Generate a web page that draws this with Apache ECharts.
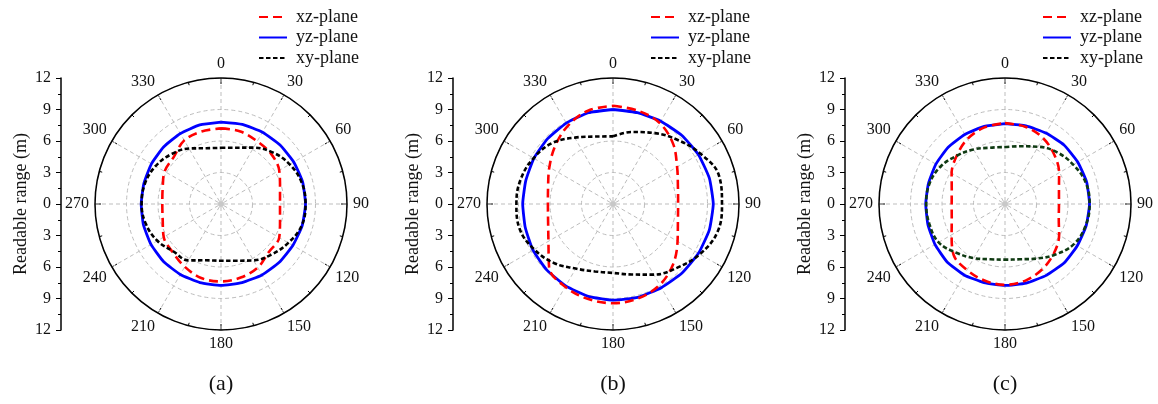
<!DOCTYPE html>
<html>
<head>
<meta charset="utf-8">
<script src="https://cdn.jsdelivr.net/npm/echarts@6/dist/echarts.min.js"></script>
</head>
<body style="margin: 0; padding: 0; background: #fff;">
<div id="chart" style="width: 1158px; height: 404px;"></div>
<script>
// angles in degrees, clockwise from north; last point closes the loop
const angles = [0, 15, 30, 45, 60, 75, 90, 105, 120, 135, 150, 165,
  180, 195, 210, 225, 240, 255, 270, 285, 300, 315, 330, 345, 360]

const panelNames = ['(a)', '(b)', '(c)']
const seriesNames = ['xz-plane', 'yz-plane', 'xy-plane']
const radiusTicks = [0, 3, 6, 9, 12]

// readable range (m) per panel
const aXZ = [7.2, 7.15, 6.9, 6.75, 6.4, 5.82, 5.62, 5.82, 6.4, 6.45, 7.0, 7.25,
  7.37, 7.3, 6.9, 6.5, 6.3, 5.75, 5.59, 5.75, 6.2, 6.35, 7.0, 7.15]
const aYZ = [7.8, 7.85, 7.9, 7.95, 8.0, 8.05, 8.05, 8.0, 7.9, 7.85, 7.8, 7.75,
  7.75, 7.75, 7.75, 7.75, 7.7, 7.65, 7.6, 7.6, 7.65, 7.7, 7.75, 7.8]
const aXY = [5.35, 5.55, 6.2, 6.95, 7.55, 7.95, 8.05, 7.95, 7.4, 6.8, 6.2, 5.59,
  5.4, 5.55, 6.2, 6.4, 7.0, 7.4, 7.56, 7.5, 7.2, 6.7, 6.1, 5.5]

const bXZ = [9.35, 9.2, 8.9, 8.1, 7.05, 6.4, 6.2, 6.4, 7.1, 8.1, 8.9, 9.3,
  9.45, 9.35, 9.1, 8.6, 7.1, 6.4, 6.2, 6.4, 7.0, 7.8, 8.6, 9.2]
const bYZ = [9.0, 9.0, 9.1, 9.25, 9.4, 9.5, 9.55, 9.5, 9.4, 9.3, 9.2, 9.2,
  9.15, 9.1, 9.0, 8.9, 8.8, 8.65, 8.6, 8.6, 8.7, 8.8, 8.9, 9.0]
const bXY = [6.44, 7.1, 7.8, 8.65, 9.6, 10.45, 10.38, 10.3, 9.55, 8.6, 7.77, 6.95,
  6.57, 6.65, 7.1, 7.95, 8.65, 9.2, 9.2, 9.1, 8.73, 8.2, 7.3, 6.65]

const cXZ = [7.7, 7.6, 7.25, 6.64, 5.95, 5.32, 5.14, 5.3, 5.95, 6.6, 7.15, 7.55,
  7.7, 7.55, 7.25, 6.9, 5.87, 5.25, 5.08, 5.25, 5.87, 6.5, 7.15, 7.55]
const cYZ = [7.65, 7.7, 7.8, 7.95, 8.0, 8.05, 8.05, 8.0, 7.95, 7.95, 7.85, 7.8,
  7.75, 7.75, 7.8, 7.8, 7.7, 7.6, 7.55, 7.55, 7.6, 7.65, 7.65, 7.65]
const cXY = [5.43, 5.69, 6.3, 6.98, 7.5, 7.95, 8.06, 7.95, 7.6, 6.8, 6.0, 5.45,
  5.3, 5.45, 5.95, 6.56, 7.3, 7.45, 7.5, 7.45, 7.1, 6.5, 6.0, 5.55]

const panels = [
  { xz: aXZ, yz: aYZ, xy: aXY, xyColor: '#000000' },
  { xz: bXZ, yz: bYZ, xy: bXY, xyColor: '#000000' },
  { xz: cXZ, yz: cYZ, xy: cXY, xyColor: '#0f3a12' }
]

const FONT = '"Liberation Serif", "Times New Roman", serif'
const centersX = [221, 613, 1005]
const centerY = 204
const R = 126

function toPoints(values) {
  const closed = values.concat([values[0]])
  return angles.map((a, i) => [closed[i], a])
}

const option = {
  animation: false,
  backgroundColor: '#fff',
  textStyle: { fontFamily: FONT },
  polar: [],
  angleAxis: [],
  radiusAxis: [],
  grid: [],
  xAxis: [],
  yAxis: [],
  legend: [],
  series: [],
  graphic: []
}

panels.forEach((p, i) => {
  const cx = centersX[i]

  option.polar.push({ center: [cx, centerY], radius: R })

  option.angleAxis.push({
    polarIndex: i,
    type: 'value',
    min: 0,
    max: 360,
    interval: 30,
    startAngle: 90,
    clockwise: true,
    axisLine: { lineStyle: { color: '#000', width: 1.5 } },
    axisTick: { inside: true, length: 6, lineStyle: { color: '#000', width: 1 } },
    minorTick: { show: true, splitNumber: 2, length: 3, lineStyle: { color: '#000' } },
    axisLabel: {
      margin: 6,
      align: 'center',
      verticalAlign: 'middle',
      fontFamily: FONT,
      fontSize: 16,
      color: '#111',
      formatter: v => (v === 360 ? '' : String(v))
    },
    splitLine: { show: true, lineStyle: { color: '#bdbdbd', type: [4, 3], width: 1 } }
  })

  option.radiusAxis.push({
    polarIndex: i,
    type: 'value',
    min: radiusTicks[0],
    max: radiusTicks[radiusTicks.length - 1],
    interval: 3,
    axisLine: { show: false },
    axisTick: { show: false },
    axisLabel: { show: false },
    splitLine: { show: true, lineStyle: { color: '#bdbdbd', type: [4, 3], width: 1 } }
  })

  // left vertical range scale (12 ... 0 ... 12)
  option.grid.push({ left: cx - 160, top: centerY - R, width: 1, height: 2 * R })
  option.xAxis.push({ gridIndex: i, type: 'value', show: false, min: 0, max: 1 })
  option.yAxis.push({
    gridIndex: i,
    type: 'value',
    min: -12,
    max: 12,
    interval: 3,
    name: 'Readable range (m)',
    nameLocation: 'middle',
    nameGap: 31,
    nameRotate: 90,
    nameTextStyle: { fontFamily: FONT, fontSize: 18, color: '#111' },
    axisLine: { show: true, lineStyle: { color: '#000', width: 1.5 } },
    axisTick: { show: true, inside: false, length: 5, lineStyle: { color: '#000' } },
    minorTick: { show: true, splitNumber: 2, length: 3, lineStyle: { color: '#000' } },
    axisLabel: {
      margin: 10,
      fontFamily: FONT,
      fontSize: 16,
      color: '#111',
      formatter: v => String(Math.abs(v))
    },
    splitLine: { show: false }
  })

  option.legend.push({
    orient: 'vertical',
    left: cx + 32,
    top: 3,
    itemWidth: 28,
    itemHeight: 14,
    itemGap: 2.5,
    data: seriesNames,
    selectedMode: false,
    itemStyle: { color: 'rgba(0,0,0,0)', borderColor: 'rgba(0,0,0,0)', borderWidth: 0 },
    textStyle: { fontFamily: FONT, fontSize: 18, color: '#111', padding: [0, 0, 0, 4] }
  })

  option.series.push(
    {
      name: seriesNames[0],
      type: 'line',
      coordinateSystem: 'polar',
      polarIndex: i,
      symbol: 'none',
      smooth: 0.35,
      data: toPoints(p.xz),
      lineStyle: { color: '#ff0000', width: 2.6, type: [9, 5] },
      itemStyle: { color: '#ff0000' },
      z: 3
    },
    {
      name: seriesNames[1],
      type: 'line',
      coordinateSystem: 'polar',
      polarIndex: i,
      symbol: 'none',
      smooth: 0.15,
      data: toPoints(p.yz),
      lineStyle: { color: '#0000ff', width: 2.8, type: 'solid' },
      itemStyle: { color: '#0000ff' },
      z: 2
    },
    {
      name: seriesNames[2],
      type: 'line',
      coordinateSystem: 'polar',
      polarIndex: i,
      symbol: 'none',
      smooth: 0.4,
      data: toPoints(p.xy),
      lineStyle: { color: p.xyColor, width: 2.6, type: [4.5, 2.5] },
      itemStyle: { color: p.xyColor },
      z: 4
    }
  )

  option.graphic.push(
    {
      type: 'circle',
      shape: { cx: cx, cy: centerY, r: 3 },
      style: { fill: '#c8c8c8' },
      z: 1
    },
    {
      type: 'text',
      x: cx,
      y: 384,
      style: {
        text: panelNames[i],
        font: '22px ' + FONT,
        fill: '#111',
        align: 'center',
        verticalAlign: 'middle'
      }
    }
  )
})

const chart = echarts.init(document.getElementById('chart'), null, { renderer: 'canvas' })
chart.setOption(option)
</script>
</body>
</html>
